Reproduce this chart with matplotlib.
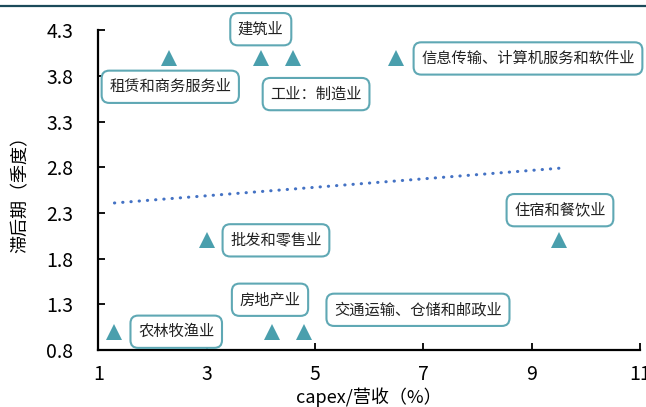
import numpy as np
import matplotlib
matplotlib.use("Agg")
import matplotlib.pyplot as plt
from matplotlib.lines import Line2D

plt.rcParams['font.family'] = ['Noto Sans CJK SC', 'DejaVu Sans']

# Data
industries = ['租赁和商务服务业', '建筑业', '工业：制造业', '信息传输、计算机服务和软件业',
              '批发和零售业', '住宿和餐饮业', '农林牧渔业', '房地产业', '交通运输、仓储和邮政业']
capex_ratio = [2.3, 4.0, 4.6, 6.5, 3.0, 9.5, 1.3, 4.2, 4.8]
lag_quarters = [4, 4, 4, 4, 2, 2, 1, 1, 1]

x_ticks = [1, 3, 5, 7, 9, 11]
y_ticks = [0.8, 1.3, 1.8, 2.3, 2.8, 3.3, 3.8, 4.3]

# label box offsets (dx, dy) from each point, in data units
label_offsets = [(0.03, -0.32), (0.0, 0.31), (0.42, -0.40), (2.43, -0.01),
                 (1.28, 0.0), (0.02, 0.33), (1.14, 0.0), (-0.03, 0.35), (2.1, 0.24)]

teal = '#4a9fad'

fig = plt.figure(figsize=(6.46, 4.07), dpi=100)
ax = fig.add_axes([0.152, 0.140, 0.839, 0.786])

# trend line
coef = np.polyfit(capex_ratio, lag_quarters, 1)
xs = np.array([min(capex_ratio), max(capex_ratio)])
ax.plot(xs, np.polyval(coef, xs), color='#4472c4', lw=2.2,
        linestyle=(0, (0.1, 2.6)), dash_capstyle='round', zorder=2)

ax.plot(capex_ratio, lag_quarters, linestyle='none', marker='^', markersize=11,
        color=teal, markeredgewidth=0, zorder=3)

for name, x, y, (dx, dy) in zip(industries, capex_ratio, lag_quarters, label_offsets):
    ax.text(x + dx, y + dy, name, ha='center', va='center', fontsize=11, color='#222222',
            bbox=dict(boxstyle='round,pad=0.5,rounding_size=0.5', fc='white',
                      ec='#5fa8b4', lw=1.5), zorder=4, clip_on=False)

ax.set_xlim(1, 11)
ax.set_ylim(0.8, 4.3)
ax.set_xticks(x_ticks)
ax.set_yticks(y_ticks)
ax.set_yticklabels([f'{v:.1f}' for v in y_ticks])
ax.tick_params(direction='in', length=5, width=1.3, labelsize=14)
ax.tick_params(axis='y', pad=18)
ax.tick_params(axis='x', pad=10)
for s in ['top', 'right']:
    ax.spines[s].set_visible(False)
for s in ['left', 'bottom']:
    ax.spines[s].set_linewidth(1.6)

ax.set_xlabel('capex/营收（%）', fontsize=13, labelpad=2)
ax.set_ylabel('滞后期（季度）', fontsize=13, labelpad=12)

fig.add_artist(Line2D([0, 1], [0.985, 0.985], color='#1b4a5a', lw=1.6,
                      transform=fig.transFigure))

fig.savefig('out.png', dpi=100)
